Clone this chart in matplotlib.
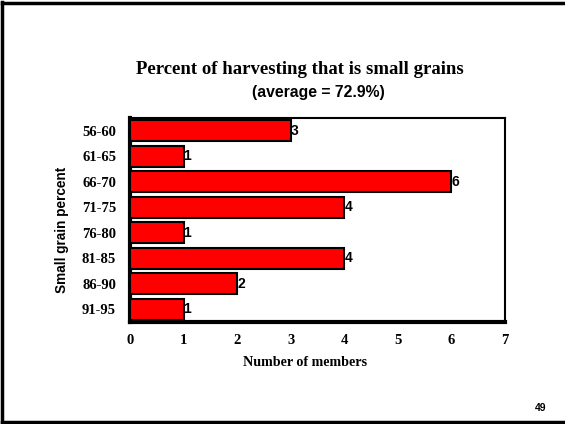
import matplotlib
matplotlib.use("Agg")
import matplotlib.pyplot as plt
from matplotlib.lines import Line2D

categories = ["56-60", "61-65", "66-70", "71-75", "76-80", "81-85", "86-90", "91-95"]
counts = [3, 1, 6, 4, 1, 4, 2, 1]
xticks = [0, 1, 2, 3, 4, 5, 6, 7]

serif = "Liberation Serif"
sans = "Liberation Sans"

fig = plt.figure(figsize=(5.65, 4.24), dpi=100)
W, H = 565, 424

# slide border
fig.add_artist(Line2D([2/W, 2/W], [0, 1 - 2/H], color="black", lw=2.5, transform=fig.transFigure))
fig.add_artist(Line2D([2/W, 1], [1 - 3/H, 1 - 3/H], color="black", lw=2.5, transform=fig.transFigure))
fig.add_artist(Line2D([2/W, 1], [1 - 422/H, 1 - 422/H], color="black", lw=2.5, transform=fig.transFigure))

ax = fig.add_axes([130/W, 1 - 322/H, (505 - 130)/W, (322 - 118)/H])
y = list(range(len(categories)))
ax.barh(y, counts, height=0.84, color="#ff0000", edgecolor="black", linewidth=1.5, zorder=3)
for yi, v in zip(y, counts):
    ax.text(v, yi, str(v), ha="left", va="center", fontsize=10, fontweight="bold",
            family=sans, zorder=4)

ax.set_xlim(0, 7)
ax.set_ylim(len(categories) - 0.5, -0.5)
ax.set_yticks(y)
ax.set_yticklabels(categories, family=serif, fontweight="bold", fontsize=10.5)
ax.set_xticks(xticks)
ax.set_xticklabels([str(t) for t in xticks], family=serif, fontweight="bold", fontsize=10.5)
ax.tick_params(length=0)
ax.tick_params(axis="y", pad=10)
ax.tick_params(axis="x", pad=9)
for side in ["left", "bottom"]:
    ax.spines[side].set_linewidth(3)
for side in ["top", "right"]:
    ax.spines[side].set_linewidth(1.5)

fig.text(300/W, 1 - 70/H, "Percent of harvesting that is small grains", ha="center", va="center",
         family=serif, fontweight="bold", fontsize=13.5)
fig.text(318/W, 1 - 92/H, "(average = 72.9%)", ha="center", va="center",
         family=sans, fontweight="bold", fontsize=11.3)
fig.text(305/W, 1 - 362/H, "Number of members", ha="center", va="center",
         family=serif, fontweight="bold", fontsize=10.2)
fig.text(62/W, 1 - 230/H, "Small grain percent", ha="center", va="center", rotation=90,
         family=sans, fontweight="bold", fontsize=9.8)
fig.text(541/W, 1 - 408/H, "49", ha="center", va="center",
         family=sans, fontweight="bold", fontsize=7.5)

fig.savefig("out.png", dpi=100)
